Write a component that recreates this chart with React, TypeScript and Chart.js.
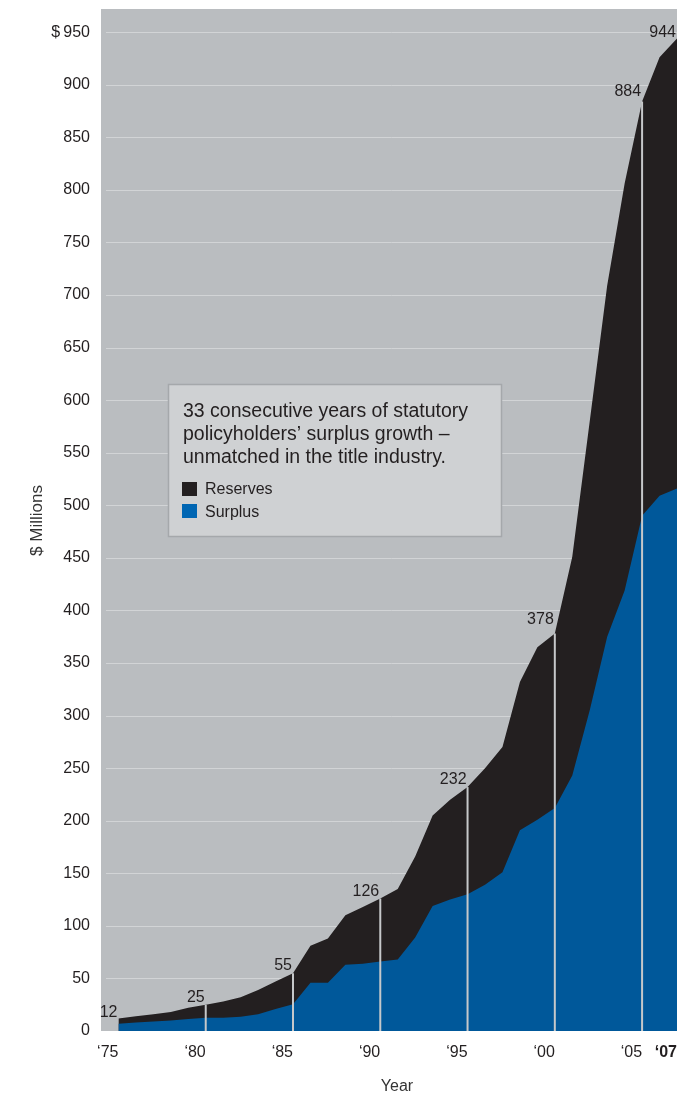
import { useEffect, useRef } from 'react';
import { Chart, registerables } from 'chart.js';

Chart.register(...registerables);

const YEARS = [
  1975, 1976, 1977, 1978, 1979, 1980, 1981, 1982, 1983, 1984, 1985,
  1986, 1987, 1988, 1989, 1990, 1991, 1992, 1993, 1994, 1995, 1996,
  1997, 1998, 1999, 2000, 2001, 2002, 2003, 2004, 2005, 2006, 2007,
];

// Reserves + Surplus (top of the black area)
const TOTAL = [
  12, 14, 16, 18, 22, 25, 28, 32, 39, 47, 55,
  81, 88, 110, 118, 126, 135, 166, 205, 220, 232, 250,
  270, 332, 365, 378, 451, 580, 709, 806, 884, 926, 944,
];

// Statutory policyholders' surplus (top of the blue area)
const SURPLUS = [
  7, 8, 9, 10, 11.5, 12.5, 12.5, 13.5, 16, 21, 25.5,
  46, 46, 63, 64, 66, 68, 89, 119, 125, 130, 139,
  151, 191, 201, 212, 243, 305, 375, 419, 490, 509, 516,
];

const Y_TICKS = [0, 50, 100, 150, 200, 250, 300, 350, 400, 450, 500, 550, 600, 650, 700, 750, 800, 850, 900, 950];
const X_TICKS = [1975, 1980, 1985, 1990, 1995, 2000, 2005, 2007];
const X_TICK_LABELS = ['\u201875', '\u201880', '\u201885', '\u201890', '\u201895', '\u201800', '\u201805', '\u201807'];
const LABELED_YEARS = [1975, 1980, 1985, 1990, 1995, 2000, 2005, 2007];
const LINE_YEARS = [1980, 1985, 1990, 1995, 2000, 2005];
const LEGEND_TITLE = [
  '33 consecutive years of statutory',
  'policyholders\u2019 surplus growth \u2013',
  'unmatched in the title industry.',
];
const SERIES_NAMES = ['Reserves', 'Surplus'];

const FONT = "'Liberation Sans', Arial, Helvetica, sans-serif";
const INK = '#231f20';
const BLUE = '#00589a';
const BLUE_SWATCH = '#0066b3';
const BG = '#babdc0';
const GRID = '#d2d4d6';
const LINE = '#c6c8ca';
const LABEL_LIFT: Record<number, number> = { 1975: 1, 2000: 10, 2005: 6, 2007: 1 };

const decorPlugin = {
  id: 'decor',
  beforeDatasetsDraw(chart: any) {
    const { ctx, chartArea: a, scales } = chart;
    ctx.save();
    ctx.fillStyle = BG;
    ctx.fillRect(a.left, a.top, a.right - a.left, a.bottom - a.top);
    ctx.strokeStyle = GRID;
    ctx.lineWidth = 1;
    Y_TICKS.forEach((v) => {
      if (v === 0) return;
      const y = Math.round(scales.y.getPixelForValue(v)) + 0.5;
      ctx.beginPath();
      ctx.moveTo(a.left + 5, y);
      ctx.lineTo(a.right, y);
      ctx.stroke();
    });
    ctx.restore();
  },
  afterDatasetsDraw(chart: any) {
    const { ctx, scales } = chart;
    const xs = scales.x;
    const ys = scales.y;
    ctx.save();
    ctx.strokeStyle = LINE;
    ctx.lineWidth = 2;
    LINE_YEARS.forEach((yr) => {
      const i = YEARS.indexOf(yr);
      const x = xs.getPixelForValue(yr);
      ctx.beginPath();
      ctx.moveTo(x, ys.getPixelForValue(0));
      ctx.lineTo(x, ys.getPixelForValue(TOTAL[i]));
      ctx.stroke();
    });
    ctx.fillStyle = INK;
    ctx.textAlign = 'right';
    ctx.textBaseline = 'alphabetic';
    ctx.font = `16px ${FONT}`;
    LABELED_YEARS.forEach((yr) => {
      const i = YEARS.indexOf(yr);
      const x = xs.getPixelForValue(yr) - 1;
      const y = ys.getPixelForValue(TOTAL[i]) - (LABEL_LIFT[yr] ?? 3);
      ctx.fillText(String(TOTAL[i]), x, y);
    });
    ctx.restore();
  },
  afterDraw(chart: any) {
    const { ctx } = chart;
    ctx.save();
    // legend / note box
    ctx.fillStyle = '#cfd1d3';
    ctx.fillRect(168.5, 384.5, 333, 152);
    ctx.strokeStyle = '#a5a8ab';
    ctx.lineWidth = 1.5;
    ctx.strokeRect(168.5, 384.5, 333, 152);
    ctx.fillStyle = INK;
    ctx.textAlign = 'left';
    ctx.textBaseline = 'alphabetic';
    ctx.font = `19.5px ${FONT}`;
    LEGEND_TITLE.forEach((t, k) => ctx.fillText(t, 183, 417 + k * 23));
    ctx.fillStyle = INK;
    ctx.fillRect(182, 482, 15, 14);
    ctx.fillStyle = BLUE_SWATCH;
    ctx.fillRect(182, 504, 15, 14);
    ctx.fillStyle = INK;
    ctx.font = `16px ${FONT}`;
    ctx.fillText(SERIES_NAMES[0], 205, 494);
    ctx.fillText(SERIES_NAMES[1], 205, 517);

    // axis titles
    ctx.fillStyle = '#333333';
    ctx.font = `16px ${FONT}`;
    ctx.textAlign = 'center';
    ctx.fillText('Year', 397, 1091);
    ctx.save();
    ctx.translate(42, 520.5);
    ctx.rotate(-Math.PI / 2);
    ctx.font = `17px ${FONT}`;
    ctx.fillText('$ Millions', 0, 0);
    ctx.restore();
    ctx.restore();
  },
};

export default function App() {
  const ref = useRef<HTMLCanvasElement | null>(null);

  useEffect(() => {
    document.body.style.margin = '0';
    document.documentElement.style.overflow = 'hidden';
    if (!ref.current) return;
    const chart = new Chart(ref.current, {
      type: 'line',
      data: {
        datasets: [
          {
            label: SERIES_NAMES[1],
            data: YEARS.map((yr, i) => ({ x: yr, y: SURPLUS[i] })),
            backgroundColor: BLUE,
            borderColor: 'rgba(0,0,0,0)',
            borderWidth: 0,
            pointRadius: 0,
            fill: 'origin',
            tension: 0,
          },
          {
            label: SERIES_NAMES[0],
            data: YEARS.map((yr, i) => ({ x: yr, y: TOTAL[i] })),
            backgroundColor: INK,
            borderColor: 'rgba(0,0,0,0)',
            borderWidth: 0,
            pointRadius: 0,
            fill: 'origin',
            tension: 0,
          },
        ],
      },
      options: {
        responsive: false,
        animation: false,
        layout: { padding: { top: 9, right: 19, left: 0, bottom: 0 } },
        plugins: {
          legend: { display: false },
          tooltip: { enabled: false },
          title: { display: false },
        },
        scales: {
          x: {
            type: 'linear',
            min: 1974,
            max: 2007,
            grid: { display: false, drawTicks: false },
            border: { display: false },
            afterBuildTicks: (s: any) => {
              s.ticks = X_TICKS.map((v) => ({ value: v }));
            },
            afterFit: (s: any) => {
              s.height = 63;
            },
            ticks: {
              align: 'end',
              autoSkip: false,
              maxRotation: 0,
              minRotation: 0,
              padding: 12,
              color: INK,
              font: (c: any) => ({
                family: FONT,
                size: 16,
                weight: c.tick && c.tick.value === 2007 ? 'bold' : 'normal',
              }),
              callback: (v: any) => {
                const k = X_TICKS.indexOf(Number(v));
                return k >= 0 ? X_TICK_LABELS[k] : '';
              },
            },
          },
          y: {
            min: 0,
            max: 972,
            grid: { display: false, drawTicks: false },
            border: { display: false },
            afterBuildTicks: (s: any) => {
              s.ticks = Y_TICKS.map((v) => ({ value: v }));
            },
            afterFit: (s: any) => {
              s.width = 101;
              s.paddingTop = 0;
              s.paddingBottom = 0;
            },
            ticks: {
              padding: 11,
              color: INK,
              font: { family: FONT, size: 16 },
              callback: (v: any) => (Number(v) === 950 ? '$\u2009950' : String(v)),
            },
          },
        },
      },
      plugins: [decorPlugin],
    } as any);
    return () => chart.destroy();
  }, []);

  return <canvas ref={ref} width={696} height={1094} style={{ display: 'block', width: 696, height: 1094 }} />;
}
